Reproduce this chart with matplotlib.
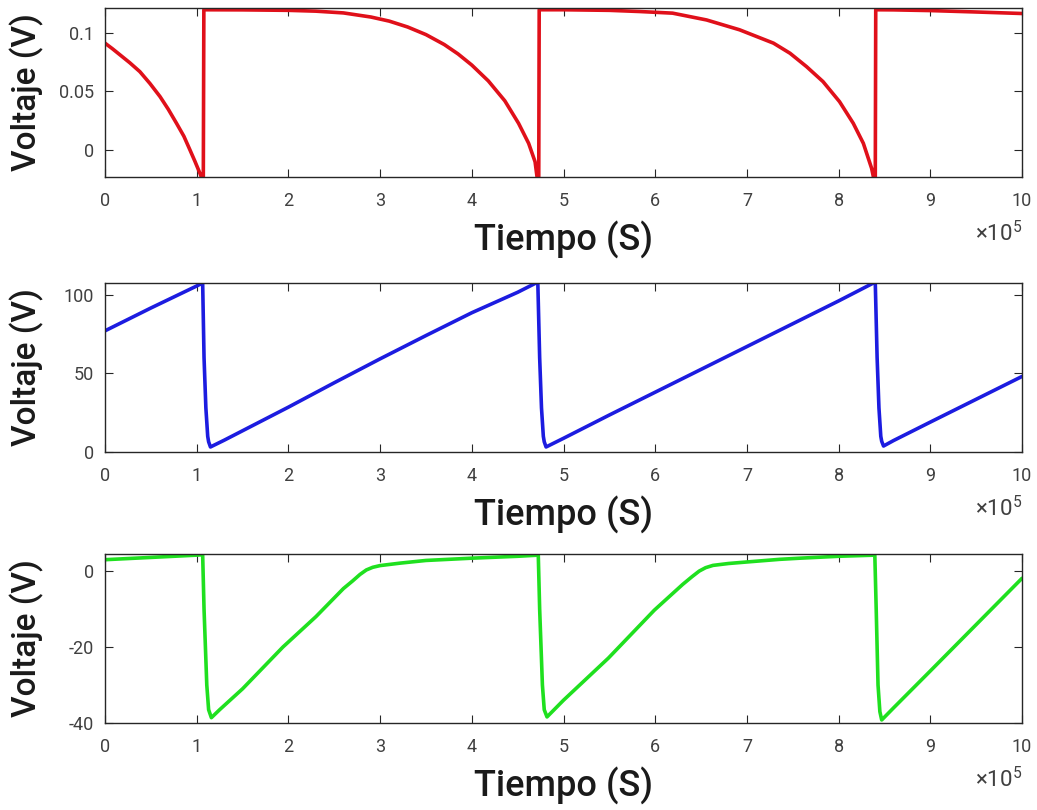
import numpy as np
import matplotlib
matplotlib.use("Agg")
import matplotlib.pyplot as plt
from matplotlib.ticker import FuncFormatter, FixedLocator

plt.rcParams['font.family'] = ['Roboto', 'DejaVu Sans']
plt.rcParams['mathtext.default'] = 'regular'

# ---------------- data (time in units of 1e5 s) ----------------
t_red = [0.0, 0.08, 0.164, 0.27, 0.38, 0.49, 0.6, 0.69, 0.78, 0.86, 0.927, 0.98, 1.036, 1.06, 1.072,
         1.078, 1.5, 2.0, 2.3, 2.6, 2.9, 3.1, 3.3, 3.5, 3.7, 3.85, 4.0, 4.18, 4.36, 4.51, 4.62, 4.69,
         4.715, 4.73,
         4.735, 5.0, 5.5, 5.83, 6.19, 6.56, 6.92, 7.29, 7.47, 7.65, 7.83, 8.01, 8.16, 8.27, 8.36,
         8.385, 8.40,
         8.405, 8.6, 9.0, 9.5, 10.0]
v_red = [0.0912, 0.0865, 0.0812, 0.0745, 0.0669, 0.0568, 0.0456, 0.0348, 0.0228, 0.0118, 0.0, -0.0095, -0.020, -0.025, -0.025,
         0.1197, 0.1196, 0.1192, 0.1185, 0.1170, 0.1135, 0.1100, 0.1050, 0.0985, 0.0900, 0.0820, 0.0725, 0.0590, 0.0420, 0.0228, 0.0057, -0.010,
         -0.025, -0.025,
         0.1197, 0.1197, 0.1192, 0.1182, 0.1168, 0.111, 0.1026, 0.0912, 0.0826, 0.0712, 0.0584, 0.0413, 0.0228, 0.0057, -0.0156,
         -0.025, -0.025,
         0.1197, 0.1196, 0.1190, 0.1178, 0.1165]

t_blue = [0.0, 0.5, 1.0, 1.065, 1.08, 1.10, 1.12, 1.13, 1.15, 1.3, 1.6, 2.0, 2.5, 3.0, 3.5,
          4.0, 4.5, 4.70, 4.72, 4.74, 4.76, 4.78, 4.79, 4.81, 5.0, 5.5, 6.0, 6.5, 7.0,
          7.5, 8.0, 8.38, 8.40, 8.42, 8.44, 8.46, 8.47, 8.49, 8.6, 9.0, 9.5, 10.0]
v_blue = [77.0, 91.5, 105.5, 107.4, 60.0, 28.0, 10.0, 6.5, 3.2, 7.5, 16.5, 28.5, 44.0, 59.2, 74.0,
          88.5, 101.5, 107.4, 107.4, 60.0, 28.0, 10.0, 6.5, 3.2, 8.7, 23.5, 38.0, 52.5, 67.0,
          81.5, 96.0, 107.4, 107.4, 60.0, 28.0, 10.0, 6.8, 3.8, 7.3, 19.0, 33.5, 48.0]

t_green = [0.0, 0.5, 1.0, 1.065, 1.08, 1.11, 1.13, 1.16, 1.25, 1.5, 1.94, 2.3, 2.6, 2.7, 2.78,
           2.85, 2.92, 3.0, 3.22, 3.5, 4.0, 4.5, 4.725,
           4.74, 4.77, 4.79, 4.82, 5.0, 5.49, 5.99, 6.3, 6.4, 6.48, 6.55, 6.63, 6.8, 7.0, 7.36,
           7.58, 8.0, 8.395,
           8.41, 8.43, 8.45, 8.47, 8.6, 9.0, 9.5, 10.0]
v_green = [3.0, 3.6, 4.2, 4.3, -10.0, -30.0, -36.5, -38.6, -36.5, -31.0, -20.0, -12.0, -4.6, -2.6, -0.9,
           0.3, 1.0, 1.45, 2.1, 2.8, 3.4, 3.9, 4.2,
           -10.0, -30.0, -36.5, -38.4, -34.0, -22.9, -10.3, -3.5, -1.5, 0.0, 0.9, 1.5, 2.0, 2.4, 3.1,
           3.4, 3.9, 4.2,
           -10.0, -30.0, -37.0, -39.2, -36.0, -26.3, -14.1, -1.9]

x_ticks = [0, 1, 2, 3, 4, 5, 6, 7, 8, 9, 10]
y_ticks_top = [0, 0.05, 0.1]
y_ticks_mid = [0, 50, 100]
y_ticks_bot = [-40, -20, 0]
ylims = [(-0.023, 0.1212), (0, 107.4), (-40, 4.5)]
colors = ['#e0101a', '#1c1ce0', '#1fe01f']

# ---------------- figure ----------------
W, H = 1037, 810
fig = plt.figure(figsize=(W / 100, H / 100), dpi=100)

def ax_rect(left, top, right, bottom):
    return [left / W, 1 - bottom / H, (right - left) / W, (bottom - top) / H]

rects = [ax_rect(105, 8, 1022, 177), ax_rect(105, 283, 1022, 452), ax_rect(105, 554, 1022, 723)]
series = [(t_red, v_red), (t_blue, v_blue), (t_green, v_green)]
yticks = [y_ticks_top, y_ticks_mid, y_ticks_bot]

for i in range(3):
    ax = fig.add_axes(rects[i])
    t, v = series[i]
    ax.plot(np.array(t) * 1e5, v, color=colors[i], lw=2.6,
            solid_joinstyle='round', solid_capstyle='round')
    ax.set_xlim(0, 10e5)
    ax.set_ylim(*ylims[i])
    ax.xaxis.set_major_locator(FixedLocator([x * 1e5 for x in x_ticks]))
    ax.xaxis.set_major_formatter(FuncFormatter(lambda val, p: f'{val / 1e5:g}'))
    ax.yaxis.set_major_locator(FixedLocator(yticks[i]))
    ax.yaxis.set_major_formatter(FuncFormatter(lambda val, p: f'{val:g}'))
    ax.tick_params(direction='in', length=6, width=0.8, top=True, right=True,
                   labelsize=13, colors='#262626', labelcolor='#404040')
    ax.tick_params(axis='x', pad=11)
    ax.tick_params(axis='y', pad=8)
    for s in ax.spines.values():
        s.set_color('#262626')
        s.set_linewidth(1.0)
    ax.set_ylabel('Voltaje (V)', fontsize=24, fontweight='medium', color='#1a1a1a')
    ax.yaxis.set_label_coords(-0.066, 0.5)
    ax.set_xlabel('Tiempo (S)', fontsize=26, fontweight='medium', color='#1a1a1a')
    ax.xaxis.set_label_coords(0.5, -0.26)
    ax.text(1.0, -0.26, r'$\times10^{5}$', transform=ax.transAxes, ha='right', va='top',
            fontsize=16, color='#404040')

fig.savefig('out.png', dpi=100, facecolor='white')
